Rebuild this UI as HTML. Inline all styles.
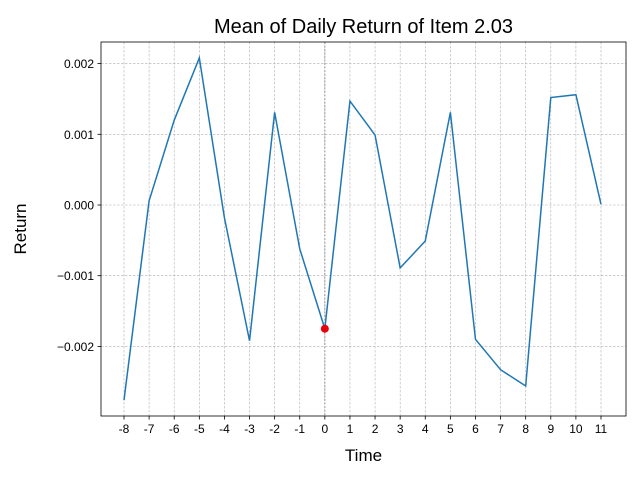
<!DOCTYPE html>
<html><head><meta charset="utf-8"><style>
body{margin:0;background:#fff;}
svg{display:block;font-family:"Liberation Sans",sans-serif;}
</style></head><body>
<svg id="chart" width="640" height="480"></svg>
<script>
const times=[-8,-7,-6,-5,-4,-3,-2,-1,0,1,2,3,4,5,6,7,8,9,10,11];
const returns=[-0.00276,0.00006,0.0012,0.00208,-0.00018,-0.00192,0.00131,-0.00062,-0.00175,0.00147,0.00099,-0.00089,-0.00051,0.00131,-0.0019,-0.00233,-0.00256,0.00152,0.00156,0.00001];
const yTicks=[-0.002,-0.001,0,0.001,0.002];
const yTickLabels=["\u22120.002","\u22120.001","0.000","0.001","0.002"];
const highlightTime=0;

const svg=document.getElementById('chart');
const NS='http://www.w3.org/2000/svg';
const L=101,R=626,T=42,B=416;
const xs=t=>124+(t-(-8))*(477/19);
const ys=v=>205-v*70700;
function mk(tag,attrs,parent){const e=document.createElementNS(NS,tag);for(const k in attrs)e.setAttribute(k,attrs[k]);(parent||svg).appendChild(e);return e;}

times.forEach(t=>{
  const g=mk('line',{x1:xs(t),x2:xs(t),y1:T,y2:B,stroke:'#b0b0b0','stroke-width':0.6,'stroke-dasharray':'2.5,1.5'});
  
  
});
yTicks.forEach(v=>{
  const g=mk('line',{x1:L,x2:R,y1:ys(v),y2:ys(v),stroke:'#b0b0b0','stroke-width':0.6,'stroke-dasharray':'2.5,1.5'});
  
  
});
const ev=mk('line',{x1:xs(highlightTime),x2:xs(highlightTime),y1:T,y2:B,stroke:'#808080','stroke-width':0.8,'stroke-dasharray':'2,1.5'});



const fr=mk('rect',{x:L,y:T,width:R-L,height:B-T,fill:'none',stroke:'#000','stroke-width':0.8});



times.forEach(t=>{
  mk('line',{x1:xs(t),x2:xs(t),y1:B,y2:B+3.5,stroke:'#000','stroke-width':0.8});
  const tx=mk('text',{x:xs(t),y:B+17,'text-anchor':'middle','font-size':12,fill:'#000'});
  tx.textContent=String(t);
  
  
});
yTicks.forEach((v,i)=>{
  mk('line',{x1:L-3.5,x2:L,y1:ys(v),y2:ys(v),stroke:'#000','stroke-width':0.8});
  const tx=mk('text',{x:L-7,y:ys(v)+4.5,'text-anchor':'end','font-size':12,fill:'#000'});
  tx.textContent=yTickLabels[i];
  
  
});

const pl=mk('polyline',{points:times.map((t,i)=>xs(t)+','+ys(returns[i])).join(' '),fill:'none',stroke:'#1f77b4','stroke-width':1.5});


const hi=times.indexOf(highlightTime);
const dot=mk('circle',{cx:xs(highlightTime),cy:ys(returns[hi]),r:4,fill:'#e8000b'});



const ti=mk('text',{x:(L+R)/2,y:33,'text-anchor':'middle','font-size':20,fill:'#000'});
ti.textContent='Mean of Daily Return of Item 2.03';


const xt=mk('text',{x:(L+R)/2,y:461,'text-anchor':'middle','font-size':17,fill:'#000'});
xt.textContent='Time';


const yt=mk('text',{x:26,y:(T+B)/2,'text-anchor':'middle','font-size':17,fill:'#000',transform:'rotate(-90 26 '+((T+B)/2)+')'});
yt.textContent='Return';


</script>
</body></html>
